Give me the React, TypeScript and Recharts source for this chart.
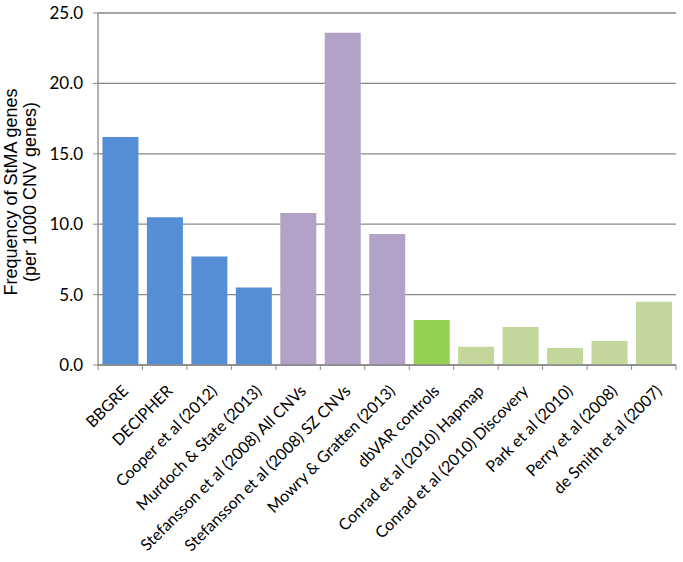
import { BarChart, Bar, Cell, XAxis, YAxis, CartesianGrid, Label } from 'recharts'

const studies = [
  'BBGRE',
  'DECIPHER',
  'Cooper et al (2012)',
  'Murdoch & State (2013)',
  'Stefansson et al (2008) All CNVs',
  'Stefansson et al (2008) SZ CNVs',
  'Mowry & Gratten (2013)',
  'dbVAR controls',
  'Conrad et al (2010) Hapmap',
  'Conrad et al (2010) Discovery',
  'Park et al (2010)',
  'Perry et al (2008)',
  'de Smith et al (2007)'
]

const frequency = [16.2, 10.5, 7.7, 5.5, 10.8, 23.6, 9.3, 3.2, 1.3, 2.7, 1.2, 1.7, 4.5]

const groups = ['clinical', 'clinical', 'clinical', 'clinical', 'sz', 'sz', 'sz', 'control', 'pop', 'pop', 'pop', 'pop', 'pop']

const yTicks = [0, 5, 10, 15, 20, 25]

const GROUP_COLORS: Record<string, string> = {
  clinical: '#558ed5',
  sz: '#b3a2c7',
  control: '#92d050',
  pop: '#c3d69b'
}

const W = 683
const H = 562
const AXIS_W = 98
const MARGIN_R = 7
const PLOT_W = W - AXIS_W - MARGIN_R
const GREY = '#898989'
const TICK_FONT = 'Lato, "Open Sans", sans-serif'
const TITLE_FONT = '"Liberation Sans", Arial, sans-serif'

const data = studies.map((name, i) => ({ name, value: frequency[i], group: groups[i] }))

// Excel-style ticks sit between categories, labels run up-right to the tick
function StudyTick(props: any) {
  const { x, y, payload, index } = props
  const band = PLOT_W / studies.length
  const axisY = y - 7
  const last = index === studies.length - 1
  const tx = x + 9
  const ty = axisY + 27
  return (
    <g>
      <line x1={x - band / 2} x2={x - band / 2} y1={axisY} y2={axisY + 5} stroke={GREY} />
      {last && <line x1={x + band / 2} x2={x + band / 2} y1={axisY} y2={axisY + 5} stroke={GREY} />}
      <text
        x={tx}
        y={ty}
        textAnchor='end'
        transform={`rotate(-45, ${tx}, ${ty})`}
        fontFamily={TICK_FONT}
        fontSize={16}
        fill='#000'
      >
        {payload.value}
      </text>
    </g>
  )
}

function YTitle() {
  const cy = 192
  return (
    <g>
      <text
        transform={`translate(17, ${cy}) rotate(-90)`}
        textAnchor='middle'
        fontFamily={TITLE_FONT}
        fontSize={18}
        fill='#000'
      >
        Frequency of StMA genes
      </text>
      <text
        transform={`translate(36, ${cy}) rotate(-90)`}
        textAnchor='middle'
        fontFamily={TITLE_FONT}
        fontSize={18}
        fill='#000'
      >
        (per 1000 CNV genes)
      </text>
    </g>
  )
}

export default function App() {
  return (
    <div style={{ position: 'absolute', left: 0, top: 0, background: '#fff' }}>
      <BarChart
        width={W}
        height={H}
        data={data}
        margin={{ top: 13, right: MARGIN_R, bottom: 0, left: 0 }}
        barCategoryGap='10%'
      >
        <CartesianGrid vertical={false} stroke={GREY} strokeWidth={1.3} />
        <XAxis
          dataKey='name'
          interval={0}
          height={197}
          axisLine={{ stroke: GREY, strokeWidth: 1.3 }}
          tickLine={false}
          tickSize={0}
          tickMargin={7}
          tick={<StudyTick />}
        />
        <YAxis
          width={AXIS_W}
          domain={[0, 25]}
          ticks={yTicks}
          interval={0}
          tickFormatter={(v: number) => v.toFixed(1)}
          axisLine={{ stroke: GREY, strokeWidth: 1.3 }}
          tickLine={{ stroke: GREY }}
          tickSize={5}
          tickMargin={10}
          tick={{ fontFamily: TICK_FONT, fontSize: 17, fill: '#000' }}
        >
          <Label content={<YTitle />} />
        </YAxis>
        <Bar dataKey='value' isAnimationActive={false}>
          {data.map((d, i) => (
            <Cell key={i} fill={GROUP_COLORS[d.group]} />
          ))}
        </Bar>
      </BarChart>
    </div>
  )
}
